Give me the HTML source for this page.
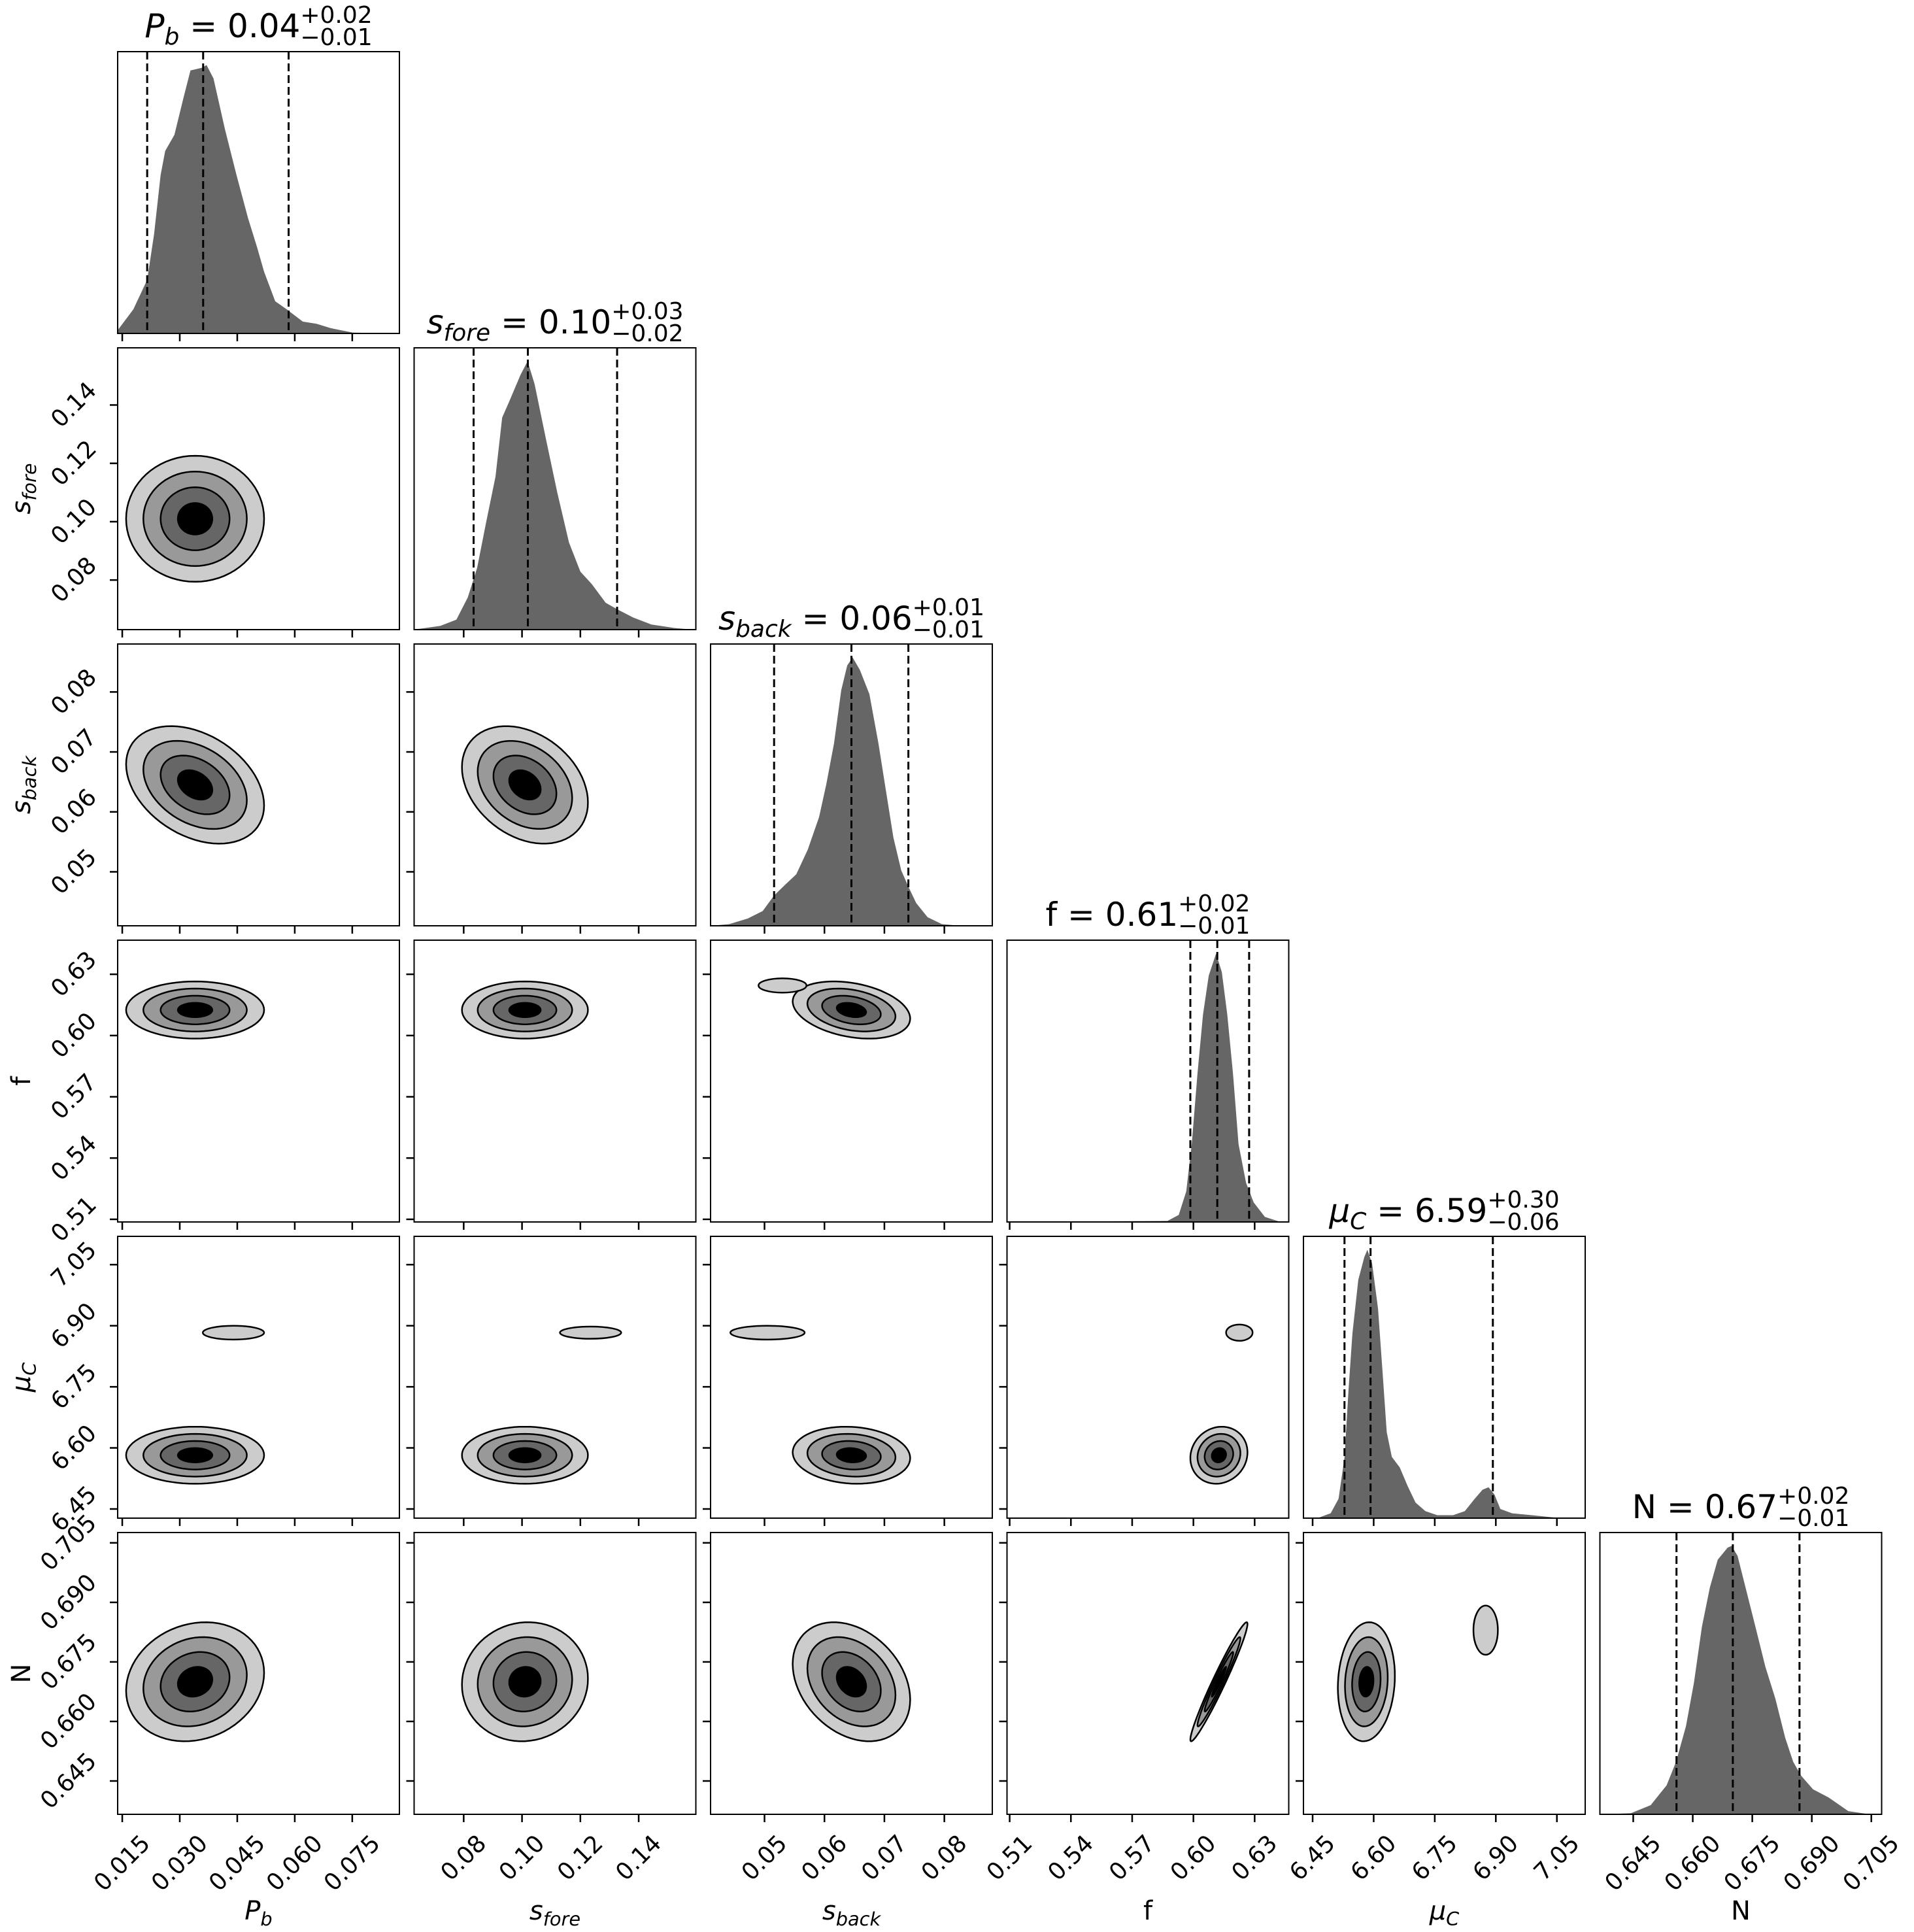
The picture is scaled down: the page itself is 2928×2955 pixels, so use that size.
<!DOCTYPE html>
<html>
<head>
<meta charset="utf-8">
<style>
html,body{margin:0;padding:0;background:#fff;}
svg{display:block;font-family:"DejaVu Sans","Liberation Sans",sans-serif;}
</style>
</head>
<body>
<svg id="chart" xmlns="http://www.w3.org/2000/svg" width="2928" height="2955" viewBox="0 0 2928 2955">
<rect x="0" y="0" width="2928" height="2955" fill="#fff"/>
</svg>
<script>
// ---- data ----
const paramKeys = ['Pb','sfore','sback','f','muC','N'];
const rangeLo = [0.0138, 0.063, 0.041, 0.5087, 6.4275, 0.6366];
const rangeHi = [0.0873, 0.1596, 0.088, 0.6467, 7.1195, 0.7076];

const ticksPb = [0.015, 0.030, 0.045, 0.060, 0.075];
const ticksSfore = [0.08, 0.10, 0.12, 0.14];
const ticksSback = [0.05, 0.06, 0.07, 0.08];
const ticksF = [0.51, 0.54, 0.57, 0.60, 0.63];
const ticksMuC = [6.45, 6.60, 6.75, 6.90, 7.05];
const ticksN = [0.645, 0.660, 0.675, 0.690, 0.705];
const tickLabelsPb = ['0.015','0.030','0.045','0.060','0.075'];
const tickLabelsSfore = ['0.08','0.10','0.12','0.14'];
const tickLabelsSback = ['0.05','0.06','0.07','0.08'];
const tickLabelsF = ['0.51','0.54','0.57','0.60','0.63'];
const tickLabelsMuC = ['6.45','6.60','6.75','6.90','7.05'];
const tickLabelsN = ['0.645','0.660','0.675','0.690','0.705'];

const histXPb = [0.0138,0.0179,0.0215,0.0233,0.0250,0.0262,0.0286,0.0310,0.0328,0.0358,0.0370,0.0388,0.0418,0.0448,0.0478,0.0502,0.0520,0.0549,0.0579,0.0621,0.0657,0.0693,0.0752,0.0873];
const histHPb = [0.012,0.09,0.2,0.37,0.59,0.68,0.74,0.88,0.98,0.99,1,0.95,0.76,0.59,0.43,0.32,0.23,0.12,0.09,0.044,0.036,0.02,0.003,0];
const histXSfore = [0.0630,0.0649,0.0720,0.0775,0.0814,0.0846,0.0877,0.0909,0.0932,0.0956,0.0995,0.1019,0.1043,0.1082,0.1121,0.1161,0.1200,0.1239,0.1287,0.1326,0.1381,0.1444,0.1522,0.1585,0.1596];
const histHSfore = [0.002,0.003,0.014,0.037,0.12,0.23,0.4,0.57,0.79,0.85,0.95,1,0.915,0.71,0.51,0.325,0.216,0.17,0.1,0.076,0.045,0.019,0.006,0,0];
const histXSback = [0.0410,0.0441,0.0472,0.0497,0.0516,0.0535,0.0553,0.0572,0.0591,0.0603,0.0616,0.0628,0.0638,0.0647,0.0659,0.0675,0.0690,0.0703,0.0715,0.0728,0.0740,0.0753,0.0772,0.0796,0.0828,0.0880];
const histHSback = [0,0.006,0.027,0.055,0.113,0.154,0.192,0.283,0.405,0.527,0.68,0.878,0.97,1,0.954,0.863,0.68,0.497,0.329,0.207,0.146,0.085,0.032,0.006,0,0];
const histXF = [0.5087,0.5873,0.5928,0.5965,0.5992,0.6020,0.6047,0.6075,0.6111,0.6139,0.6166,0.6194,0.6221,0.6258,0.6295,0.6350,0.6423,0.6467];
const histHF = [0,0.004,0.026,0.114,0.29,0.553,0.772,0.918,1,0.931,0.772,0.553,0.29,0.146,0.073,0.019,0.001,0];
const histXMuC = [6.4275,6.4653,6.4943,6.5137,6.5283,6.5380,6.5477,6.5622,6.5768,6.5845,6.5961,6.6107,6.6223,6.6320,6.6446,6.6640,6.6833,6.7028,6.7270,6.7561,6.7948,6.8239,6.8481,6.8675,6.8821,6.8966,6.9111,6.9402,6.9887,7.0469,7.1195];
const histHMuC = [0,0.002,0.018,0.072,0.226,0.472,0.688,0.888,0.972,1,0.949,0.78,0.534,0.32,0.228,0.189,0.12,0.058,0.026,0.011,0.011,0.026,0.072,0.106,0.115,0.088,0.034,0.018,0.011,0.002,0];
const histXN = [0.6366,0.6444,0.6494,0.6534,0.6558,0.6583,0.6603,0.6623,0.6643,0.6663,0.6688,0.6698,0.6713,0.6733,0.6758,0.6783,0.6808,0.6833,0.6853,0.6873,0.6903,0.6942,0.6992,0.7042,0.7076];
const histHN = [0,0.004,0.034,0.108,0.196,0.329,0.491,0.698,0.845,0.949,0.994,1,0.963,0.845,0.698,0.55,0.432,0.285,0.196,0.144,0.093,0.063,0.012,0.001,0];

const q16 = [0.0215, 0.0834, 0.0516, 0.5985, 6.5283, 0.6559];
const q50 = [0.0361, 0.1020, 0.0645, 0.6117, 6.5923, 0.6701];
const q84 = [0.0584, 0.1326, 0.0740, 0.6273, 6.8927, 0.6869];

const blobCenter = [0.0340, 0.1010, 0.0645, 0.6125, 6.582, 0.6700];
const blobSigma = [0.0090, 0.0108, 0.0049, 0.0070, 0.035, 0.0075];
// lower-triangle correlations, row i > col j : [i, j, rho]
const pairRho = [[1,0,0.0],[2,0,-0.35],[2,1,-0.3],[3,0,0.0],[3,1,0.0],[3,2,-0.3],
                 [4,0,0.0],[4,1,0.0],[4,2,-0.1],[4,3,0.1],[5,0,0.15],[5,1,0.05],[5,2,-0.3],[5,3,0.97],[5,4,0.1]];
const sigmaLevels = [2, 1.5, 1, 0.5];
const levelColors = ['#cccccc', '#999999', '#666666', '#000000'];

// islands: [row, col, cx, cy, halfX, halfY]
const islands = [[4,0,0.0440,6.883,0.0080,0.017],[4,1,0.1235,6.883,0.0105,0.015],[4,2,0.0505,6.883,0.0062,0.017],
                 [4,3,0.6225,6.883,0.0065,0.020],[5,4,6.875,0.6830,0.030,0.0062],[3,2,0.0530,0.6245,0.0040,0.0035]];

const titleNames = ['P','s','s','f','\u03bc','N'];
const titleSubs = ['b','fore','back','','C',''];
const titleVals = ['0.04','0.10','0.06','0.61','6.59','0.67'];
const titlePlus = ['+0.02','+0.03','+0.01','+0.02','+0.30','+0.02'];
const titleMinus = ['\u22120.01','\u22120.02','\u22120.01','\u22120.01','\u22120.06','\u22120.01'];

// ---- layout ----
const NS = 'http://www.w3.org/2000/svg';
const svg = document.getElementById('chart');
const P0X = 180, P0Y = 79, STEPX = 453.5, STEPY = 453, SZ = 431;
const TICKS = [ticksPb, ticksSfore, ticksSback, ticksF, ticksMuC, ticksN];
const TLAB = [tickLabelsPb, tickLabelsSfore, tickLabelsSback, tickLabelsF, tickLabelsMuC, tickLabelsN];
const HX = [histXPb, histXSfore, histXSback, histXF, histXMuC, histXN];
const HH = [histHPb, histHSfore, histHSback, histHF, histHMuC, histHN];
const italicName = [true, true, true, false, true, false];

function mk(tag, attrs, parent) {
  const e = document.createElementNS(NS, tag);
  for (const k in attrs) e.setAttribute(k, attrs[k]);
  (parent || svg).appendChild(e);
  return e;
}
function xScale(p, c, v) { return P0X + c * STEPX + (v - rangeLo[p]) / (rangeHi[p] - rangeLo[p]) * SZ; }
function yScale(p, r, v) { return P0Y + r * STEPY + SZ - (v - rangeLo[p]) / (rangeHi[p] - rangeLo[p]) * SZ; }
function rhoOf(i, j) { for (const t of pairRho) if (t[0] === i && t[1] === j) return t[2]; return 0; }

function labelText(parent, x, y, idx, fs, anchor, transform) {
  const t = mk('text', {x: x, y: y, 'font-size': fs, 'text-anchor': anchor, fill: '#000'}, parent);
  if (transform) t.setAttribute('transform', transform);
  const a = document.createElementNS(NS, 'tspan');
  if (italicName[idx]) a.setAttribute('font-style', 'italic');
  a.textContent = titleNames[idx];
  t.appendChild(a);
  if (titleSubs[idx]) {
    const b = document.createElementNS(NS, 'tspan');
    b.setAttribute('font-style', 'italic');
    b.setAttribute('font-size', fs * 0.72);
    b.setAttribute('dy', fs * 0.22);
    b.textContent = titleSubs[idx];
    t.appendChild(b);
  }
  return t;
}

for (let r = 0; r < 6; r++) {
  for (let c = 0; c <= r; c++) {
    const x0 = P0X + c * STEPX, y0 = P0Y + r * STEPY;
    const g = mk('g', {});
    
    
    const cid = 'clip' + r + '_' + c;
    const cp = mk('clipPath', {id: cid}, g);
    mk('rect', {x: x0, y: y0, width: SZ, height: SZ}, cp);
    const inner = mk('g', {'clip-path': 'url(#' + cid + ')'}, g);

    if (r === c) {
      const xs = HX[c], hs = HH[c];
      let d = 'M' + xScale(c, c, xs[0]).toFixed(1) + ',' + (y0 + SZ);
      for (let k = 0; k < xs.length; k++) {
        d += ' L' + xScale(c, c, xs[k]).toFixed(1) + ',' + (y0 + SZ - hs[k] / 1.05 * SZ).toFixed(1);
      }
      d += ' L' + xScale(c, c, xs[xs.length - 1]).toFixed(1) + ',' + (y0 + SZ) + ' Z';
      const hp = mk('path', {d: d, fill: '#666666', stroke: 'none'}, inner);
      
      
      [q16[c], q50[c], q84[c]].forEach((q, qi) => {
        const lx = xScale(c, c, q);
        const ln = mk('line', {x1: lx, x2: lx, y1: y0, y2: y0 + SZ, stroke: '#000', 'stroke-width': 3, 'stroke-dasharray': '12,6'}, inner);
        
        
      });
      const tg = mk('g', {});
      
      
      const main = labelText(tg, 0, y0 - 22, c, 50, 'start');
      const eq = mk('tspan', {'font-size': 50, dy: titleSubs[c] ? -50 * 0.22 : 0}, main);
      eq.textContent = ' = ' + titleVals[c];
      const sup = mk('text', {x: 0, y: y0 - 44, 'font-size': 36}, tg);
      sup.textContent = titlePlus[c];
      const sub = mk('text', {x: 0, y: y0 - 10, 'font-size': 36}, tg);
      sub.textContent = titleMinus[c];
      const wMain = main.getComputedTextLength();
      const wScr = Math.max(sup.getComputedTextLength(), sub.getComputedTextLength());
      const start = x0 + SZ / 2 - (wMain + wScr) / 2;
      main.setAttribute('x', start);
      sup.setAttribute('x', start + wMain);
      sub.setAttribute('x', start + wMain);
    } else {
      const rho = rhoOf(r, c);
      sigmaLevels.forEach((lv, li) => {
        let d = '';
        for (let k = 0; k <= 72; k++) {
          const t = k / 72 * 2 * Math.PI;
          const vx = blobCenter[c] + lv * blobSigma[c] * Math.cos(t);
          const vy = blobCenter[r] + lv * blobSigma[r] * (rho * Math.cos(t) + Math.sqrt(1 - rho * rho) * Math.sin(t));
          d += (k ? ' L' : 'M') + xScale(c, c, vx).toFixed(1) + ',' + yScale(r, r, vy).toFixed(1);
        }
        const cpth = mk('path', {d: d + ' Z', fill: levelColors[li], stroke: '#000', 'stroke-width': 2.5}, inner);
        
        
      });
      islands.forEach(isl => {
        if (isl[0] !== r || isl[1] !== c) return;
        const e = mk('ellipse', {cx: xScale(c, c, isl[2]), cy: yScale(r, r, isl[3]),
          rx: Math.abs(xScale(c, c, isl[2] + isl[4]) - xScale(c, c, isl[2])),
          ry: Math.abs(yScale(r, r, isl[3] + isl[5]) - yScale(r, r, isl[3])),
          fill: '#cccccc', stroke: '#000', 'stroke-width': 2.5}, inner);
        
        
      });
    }
    const fr = mk('rect', {x: x0, y: y0, width: SZ, height: SZ, fill: 'none', stroke: '#000', 'stroke-width': 2}, g);
    
    

    TICKS[c].forEach((tv, ti) => {
      const tx = xScale(c, c, tv);
      const tk = mk('line', {x1: tx, x2: tx, y1: y0 + SZ, y2: y0 + SZ + 12, stroke: '#000', 'stroke-width': 2.5}, g);
      
      
      if (r === 5) {
        const lab = mk('text', {x: tx, y: 0, 'font-size': 36, 'text-anchor': 'middle', 'dominant-baseline': 'central'}, g);
        
        
        lab.textContent = TLAB[c][ti];
        const L = lab.getComputedTextLength();
        const cy = y0 + SZ + 29 + 0.3535 * (L + 27);
        lab.setAttribute('y', cy);
        lab.setAttribute('transform', 'rotate(-45 ' + tx + ' ' + cy + ')');
      }
    });
    if (r !== c) {
      TICKS[r].forEach((tv, ti) => {
        const ty = yScale(r, r, tv);
        const tk = mk('line', {x1: x0 - 12, x2: x0, y1: ty, y2: ty, stroke: '#000', 'stroke-width': 2.5}, g);
        
        
        if (c === 0) {
          const lab = mk('text', {x: 0, y: ty, 'font-size': 36, 'text-anchor': 'middle', 'dominant-baseline': 'central'}, g);
          
          
          lab.textContent = TLAB[r][ti];
          const L = lab.getComputedTextLength();
          const cx = x0 - 29 - 0.3535 * (L + 27);
          lab.setAttribute('x', cx);
          lab.setAttribute('transform', 'rotate(-45 ' + cx + ' ' + ty + ')');
        }
      });
    }
  }
}
for (let c = 0; c < 6; c++) {
  const xl = labelText(svg, P0X + c * STEPX + SZ / 2, 2936, c, 40, 'middle');
  
  
}
for (let r = 1; r < 6; r++) {
  const cy = P0Y + r * STEPY + SZ / 2;
  const yl = labelText(svg, 46, cy, r, 40, 'middle', 'rotate(-90 46 ' + cy + ')');
  
  
}
</script>
</body>
</html>
